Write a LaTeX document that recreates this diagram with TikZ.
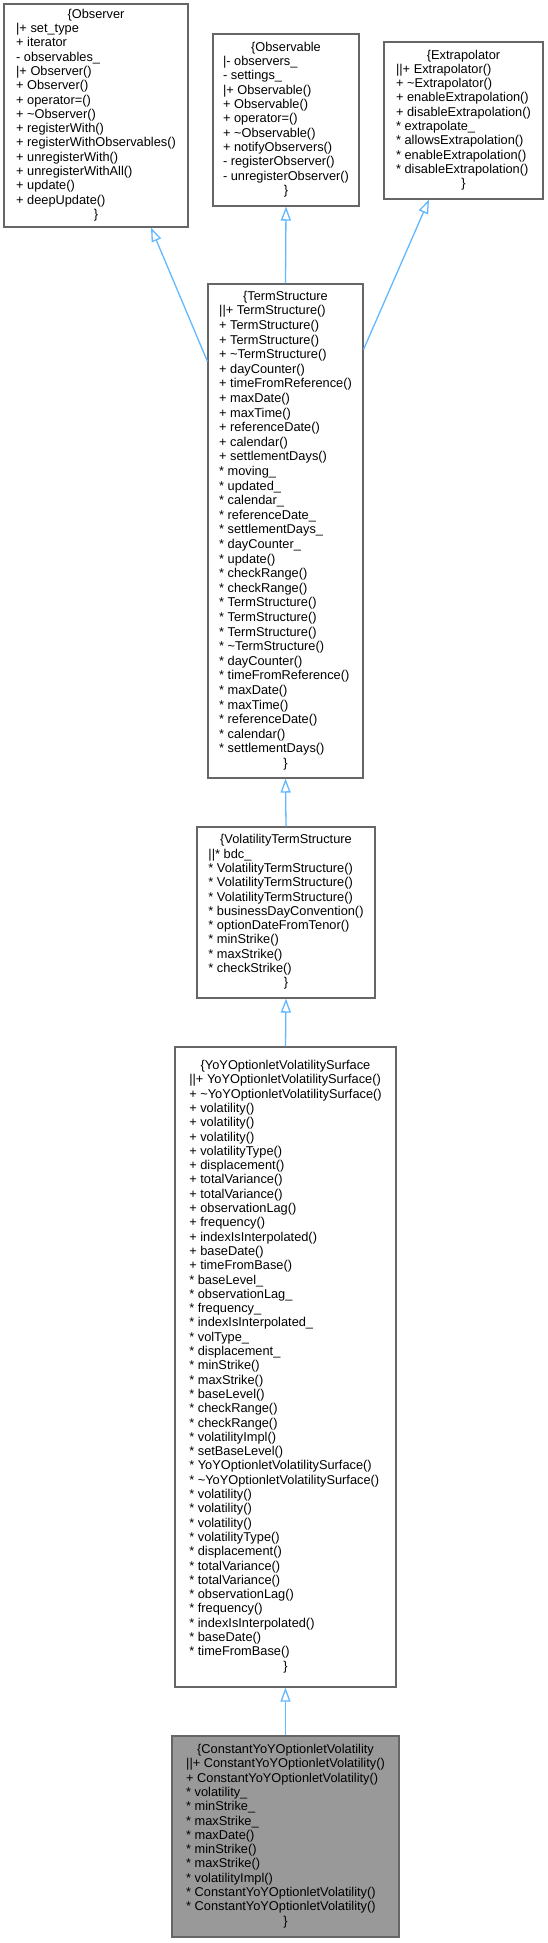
\documentclass[tikz,border=0pt]{standalone}
\usepackage{fontspec}
\setmainfont{Liberation Sans}
\usetikzlibrary{arrows.meta}
\definecolor{edgeblue}{HTML}{63B8FF}
\definecolor{boxborder}{HTML}{666666}
\definecolor{curfill}{HTML}{999999}
\newcommand{\hd}[1]{\multicolumn{1}{c}{#1}}
\newcommand{\tl}{\textasciitilde}
\newcommand{\st}{{*}}
\tikzset{
  classbox/.style={draw=boxborder, line width=1.1pt, fill=white, rectangle, inner sep=0pt,
    font=\fontsize{12.8}{14.3}\selectfont, align=center, anchor=center},
  curbox/.style={classbox, fill=curfill},
  inherit/.style={draw=edgeblue, line width=1.3pt,
    -{Triangle[open, length=14pt, width=10pt, line width=1.3pt, fill=white]}}
}
\begin{document}
\begin{tikzpicture}[x=1pt,y=1pt]
\useasboundingbox (0,0) rectangle (548,-1943);

\node[classbox, minimum width=184pt, minimum height=223pt] (obs) at (96,-115.5) {\begin{tabular}{@{}l@{}}
\hd{\{Observer}\\
|+ set\_type\\
+ iterator\\
- observables\_\\
|+ Observer()\\
+ Observer()\\
+ operator=()\\
+ \tl Observer()\\
+ registerWith()\\
+ registerWithObservables()\\
+ unregisterWith()\\
+ unregisterWithAll()\\
+ update()\\
+ deepUpdate()\\
\hd{\}}
\end{tabular}};

\node[classbox, minimum width=146pt, minimum height=172pt] (obl) at (286,-120) {\begin{tabular}{@{}l@{}}
\hd{\{Observable}\\
|- observers\_\\
- settings\_\\
|+ Observable()\\
+ Observable()\\
+ operator=()\\
+ \tl Observable()\\
+ notifyObservers()\\
- registerObserver()\\
- unregisterObserver()\\
\hd{\}}
\end{tabular}};

\node[classbox, minimum width=159pt, minimum height=157pt] (ext) at (463.5,-120.5) {\begin{tabular}{@{}l@{}}
\hd{\{Extrapolator}\\
||+ Extrapolator()\\
+ \tl Extrapolator()\\
+ enableExtrapolation()\\
+ disableExtrapolation()\\
\st{} extrapolate\_\\
\st{} allowsExtrapolation()\\
\st{} enableExtrapolation()\\
\st{} disableExtrapolation()\\
\hd{\}}
\end{tabular}};

\node[classbox, minimum width=155pt, minimum height=494pt, font=\fontsize{12.8}{14.6}\selectfont] (ts) at (285.5,-531) {\begin{tabular}{@{}l@{}}
\hd{\{TermStructure}\\
||+ TermStructure()\\
+ TermStructure()\\
+ TermStructure()\\
+ \tl TermStructure()\\
+ dayCounter()\\
+ timeFromReference()\\
+ maxDate()\\
+ maxTime()\\
+ referenceDate()\\
+ calendar()\\
+ settlementDays()\\
\st{} moving\_\\
\st{} updated\_\\
\st{} calendar\_\\
\st{} referenceDate\_\\
\st{} settlementDays\_\\
\st{} dayCounter\_\\
\st{} update()\\
\st{} checkRange()\\
\st{} checkRange()\\
\st{} TermStructure()\\
\st{} TermStructure()\\
\st{} TermStructure()\\
\st{} \tl TermStructure()\\
\st{} dayCounter()\\
\st{} timeFromReference()\\
\st{} maxDate()\\
\st{} maxTime()\\
\st{} referenceDate()\\
\st{} calendar()\\
\st{} settlementDays()\\
\hd{\}}
\end{tabular}};

\node[classbox, minimum width=178pt, minimum height=171pt] (vts) at (286,-912.5) {\begin{tabular}{@{}l@{}}
\hd{\{VolatilityTermStructure}\\
||* bdc\_\\
\st{} VolatilityTermStructure()\\
\st{} VolatilityTermStructure()\\
\st{} VolatilityTermStructure()\\
\st{} businessDayConvention()\\
\st{} optionDateFromTenor()\\
\st{} minStrike()\\
\st{} maxStrike()\\
\st{} checkStrike()\\
\hd{\}}
\end{tabular}};

\node[classbox, minimum width=221pt, minimum height=640pt] (yoy) at (285.5,-1367) {\begin{tabular}{@{}l@{}}
\hd{\{YoYOptionletVolatilitySurface}\\
||+ YoYOptionletVolatilitySurface()\\
+ \tl YoYOptionletVolatilitySurface()\\
+ volatility()\\
+ volatility()\\
+ volatility()\\
+ volatilityType()\\
+ displacement()\\
+ totalVariance()\\
+ totalVariance()\\
+ observationLag()\\
+ frequency()\\
+ indexIsInterpolated()\\
+ baseDate()\\
+ timeFromBase()\\
\st{} baseLevel\_\\
\st{} observationLag\_\\
\st{} frequency\_\\
\st{} indexIsInterpolated\_\\
\st{} volType\_\\
\st{} displacement\_\\
\st{} minStrike()\\
\st{} maxStrike()\\
\st{} baseLevel()\\
\st{} checkRange()\\
\st{} checkRange()\\
\st{} volatilityImpl()\\
\st{} setBaseLevel()\\
\st{} YoYOptionletVolatilitySurface()\\
\st{} \tl YoYOptionletVolatilitySurface()\\
\st{} volatility()\\
\st{} volatility()\\
\st{} volatility()\\
\st{} volatilityType()\\
\st{} displacement()\\
\st{} totalVariance()\\
\st{} totalVariance()\\
\st{} observationLag()\\
\st{} frequency()\\
\st{} indexIsInterpolated()\\
\st{} baseDate()\\
\st{} timeFromBase()\\
\hd{\}}
\end{tabular}};

\node[curbox, minimum width=227pt, minimum height=201pt] (cyoy) at (285.5,-1836.5) {\begin{tabular}{@{}l@{}}
\hd{\{ConstantYoYOptionletVolatility}\\
||+ ConstantYoYOptionletVolatility()\\
+ ConstantYoYOptionletVolatility()\\
\st{} volatility\_\\
\st{} minStrike\_\\
\st{} maxStrike\_\\
\st{} maxDate()\\
\st{} minStrike()\\
\st{} maxStrike()\\
\st{} volatilityImpl()\\
\st{} ConstantYoYOptionletVolatility()\\
\st{} ConstantYoYOptionletVolatility()\\
\hd{\}}
\end{tabular}};

\draw[inherit] ([yshift=-78pt]ts.north west) -- ([xshift=55pt]obs.south);
\draw[inherit] (ts.north) -- (obl.south);
\draw[inherit] ([yshift=-66pt]ts.north east) -- ([xshift=-34.5pt]ext.south);
\draw[inherit] (vts.north) -- (ts.south);
\draw[inherit] (yoy.north) -- (vts.south);
\draw[inherit] (cyoy.north) -- (yoy.south);
\end{tikzpicture}
\end{document}
